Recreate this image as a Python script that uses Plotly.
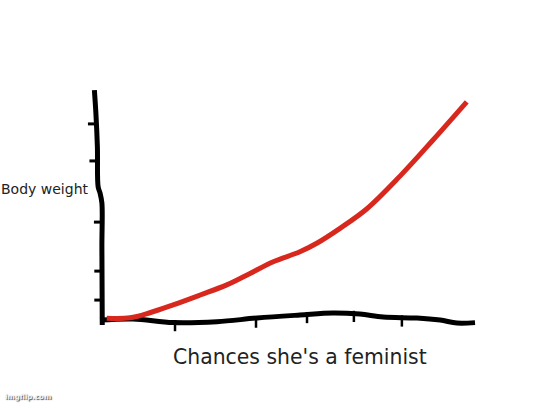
import plotly.graph_objects as go

# red curve: body weight vs chances she's a feminist
chance = [0.18, 0.8, 1.33, 1.95, 2.67, 3.38, 4.0, 4.62, 5.33, 5.78, 6.4, 7.11, 8.0, 8.88, 9.78]
weight = [0.12, 0.14, 0.36, 0.70, 1.13, 1.57, 2.07, 2.58, 3.01, 3.38, 4.03, 4.87, 6.3, 7.87, 9.53]

# hand drawn axes
xaxis_x = [0, 0.88, 1.95, 3.12, 4.19, 5.33, 6.21, 6.93, 7.55, 8.45, 9.07, 9.52, 10]
xaxis_y = [0.04, 0.09, -0.07, -0.03, 0.13, 0.26, 0.35, 0.30, 0.17, 0.13, 0.04, -0.09, -0.07]
yaxis_x = [-0.15, -0.11, -0.07, -0.05, 0, 0.05, 0.05, 0.06]
yaxis_y = [10.04, 9.04, 7.57, 5.83, 5.57, 5.13, 3.22, -0.17]

# little tick marks
ytick_x = [-0.21, -0.17, -0.05, -0.04, -0.04]
ytick_y = [8.57, 6.96, 4.3, 2.17, 0.91]
xtick_x = [2.0, 4.16, 5.52, 6.77, 8.05]
xtick_y = [-0.2, -0.05, 0.15, 0.2, 0.0]

fig = go.Figure()
fig.add_trace(go.Scatter(x=yaxis_x, y=yaxis_y, mode='lines',
                         line=dict(color='black', width=5, shape='spline')))
fig.add_trace(go.Scatter(x=xaxis_x, y=xaxis_y, mode='lines',
                         line=dict(color='black', width=5, shape='spline')))
fig.add_trace(go.Scatter(x=ytick_x, y=ytick_y, mode='markers',
                         marker=dict(symbol='line-ew-open', size=6, color='black',
                                     line=dict(color='black', width=3))))
fig.add_trace(go.Scatter(x=xtick_x, y=xtick_y, mode='markers',
                         marker=dict(symbol='line-ns-open', size=8, color='black',
                                     line=dict(color='black', width=2.5))))
fig.add_trace(go.Scatter(x=chance, y=weight, mode='lines',
                         line=dict(color='#d8281e', width=5, shape='spline')))

fig.add_annotation(x=-0.25, y=5.75, text='Body weight', showarrow=False,
                   xanchor='right', yanchor='middle',
                   font=dict(family='DejaVu Sans', size=14, color='#222'))
fig.add_annotation(x=1.89, y=-1.55, text="Chances she's a feminist", showarrow=False,
                   xanchor='left', yanchor='middle',
                   font=dict(family='DejaVu Sans', size=20.4, color='#222'))
fig.add_annotation(x=0.005, y=0.005, xref='paper', yref='paper', text='<b>imgflip.com</b>',
                   showarrow=False, xanchor='left', yanchor='bottom',
                   font=dict(family='DejaVu Sans', size=7, color='#f4f4f4',
                             shadow='1px 1px 1px #444'))

fig.update_layout(
    width=540, height=405,
    margin=dict(l=0, r=0, t=0, b=0),
    paper_bgcolor='white', plot_bgcolor='white',
    showlegend=False,
    xaxis=dict(range=[-2.667, 11.733], visible=False),
    yaxis=dict(range=[-3.652, 13.957], visible=False),
)

# drop the default page margin so the figure sits at the top-left corner
fig.write_html("out.html", config={'displayModeBar': False},
               post_script="document.body.style.margin = '0';")
